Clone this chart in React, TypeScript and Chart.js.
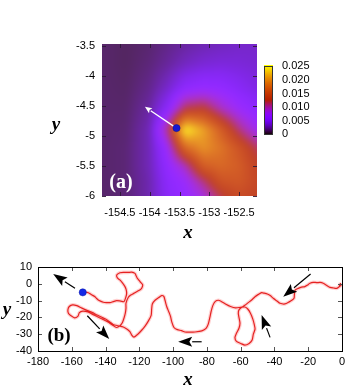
import React, { useEffect, useRef } from "react";
import { Chart, registerables } from "chart.js";

Chart.register(...registerables);

// ---------------- panel (a): density map ----------------
const gridX = [-154.8, -154.4, -154.0, -153.7, -153.4, -153.1, -152.8, -152.5, -152.2];
const gridY = [-3.47, -3.8, -4.2, -4.55, -4.9, -5.2, -5.5, -5.75, -6.0];
const densityRows = [
  [0.0013, 0.0011, 0.0014, 0.0019, 0.0024, 0.0028, 0.0031, 0.0034, 0.0035],
  [0.0013, 0.0011, 0.0016, 0.0023, 0.0032, 0.0038, 0.004, 0.0039, 0.0037],
  [0.0013, 0.0012, 0.002, 0.0035, 0.0058, 0.0065, 0.0062, 0.0052, 0.0043],
  [0.0013, 0.0013, 0.0025, 0.0055, 0.012, 0.0128, 0.0095, 0.0072, 0.0058],
  [0.0013, 0.0014, 0.003, 0.0105, 0.025, 0.021, 0.016, 0.011, 0.0078],
  [0.0013, 0.0015, 0.003, 0.0072, 0.017, 0.02, 0.018, 0.015, 0.0115],
  [0.0013, 0.0015, 0.003, 0.0062, 0.0095, 0.016, 0.017, 0.016, 0.013],
  [0.0013, 0.0015, 0.0028, 0.0056, 0.0072, 0.011, 0.015, 0.0155, 0.0135],
  [0.0013, 0.0015, 0.0028, 0.0053, 0.0065, 0.0085, 0.012, 0.014, 0.013],
];
const xTicksA = [-154.5, -154, -153.5, -153, -152.5];
const yTicksA = [-6, -5.5, -5, -4.5, -4, -3.5];
const cbTicks = [0, 0.005, 0.01, 0.015, 0.02, 0.025];
const cbLabels = ["0", "0.005", "0.010", "0.015", "0.020", "0.025"];
const posAX = [-153.55];
const posAY = [-4.87];
const arrowAX = [-153.55, -154.08];
const arrowAY = [-4.87, -4.515];

// ---------------- panel (b): trajectory ----------------
const trajX = [
  -0.8, -1.6, -0.6, -2, -3.2, -5, -7.1, -9, -11.1, -13, -15, -17, -19, -20.5, -22, -24, -25.9, -27.5, -28, -28.2,
  -28.4, -30, -31, -33.8, -36.7, -38.5, -40.7, -42.5, -44.2, -46, -47.6, -49.5, -51.5, -53.5, -55.5, -57.5, -59.4, -61,
  -61.4, -61, -60.4, -61, -62.5, -63.4, -62.5, -60, -57.5, -55, -53.2, -52.5, -51.5, -52, -52.8, -54.2, -55.8, -57.5, -60,
  -63, -66, -69, -71.5, -73.2, -75, -76.5, -77.5, -78.2, -79.2, -80.5, -83, -87, -90, -93, -95, -97.5, -99.5, -100.8,
  -101.5, -102.5, -103.8, -104.8, -105.5, -106.8, -108.5, -110.7, -112.3, -112.7, -113, -114.7, -116.5, -118.5, -120.6,
  -123.2, -124.5, -125.5, -127, -129.5,
  -132.5, -135.5, -137.5, -140, -142.5, -145, -148, -151, -154, -157, -159.5, -161.5, -162.3, -162, -160.5, -158.3,
  -156.3, -155.5, -153.5, -150.4, -147, -144.5, -141.5, -138.6, -136, -133.5, -131.5, -130, -129.1, -128.3, -127.9,
  -127.9, -126.5, -125.1, -123.3, -121.6, -119.5, -118.6, -118, -119.6, -120.5, -121.2, -122, -122.6, -124.5, -126.5,
  -129, -131.5, -133.4, -133, -131.5, -130, -128.5, -127.8, -127.5, -128, -129.1, -131, -133.4, -135.5, -137.4, -139.5,
  -141.3, -143, -144.3, -145.5, -146.3, -148.3, -150.2, -152, -153.5,
];
const trajY = [
  0.5, -1.6, -0.8, -2, -2.7, -2.5, -2.1, -1, 0.3, 0.8, 0.7, 0.9, 0.3, -0.8, -1.7, -2, -2.7, -3.5, -4.7, -6.5,
  -8.6, -10, -10.6, -12, -11.6, -10.2, -8.6, -7, -6.1, -5.6, -5.3, -6.3, -7.7, -9.6, -11.2, -12.8, -14, -15.5,
  -17.5, -20, -23.5, -26.5, -29.5, -32, -34.3, -35.5, -36.5, -35.5, -33.5, -30, -27, -24, -21, -17.5, -15, -13.8, -14,
  -14.3, -13.5, -12, -10.5, -9.8, -10.5, -13, -16.5, -19.8, -24, -26.5, -28, -28.7, -28.8, -28.7, -27.9, -27.3, -26, -22.7,
  -19.5, -16.8, -13.5, -9.8, -7.5, -7, -8.2, -9.8, -12, -15, -18.8, -22.2, -25, -27.5, -29.7,
  -31.7, -30.5, -28.6, -27.2, -25.7,
  -25, -24.2, -22.7, -21, -19.8, -18.6, -17, -15.8, -14.5, -13, -12.5, -13.5, -15.5, -17.5, -19, -20.3,
  -19.2, -17.2, -16.3, -16.8, -18.5, -19.8, -21.2, -22.7, -24.5, -26, -25, -23, -20.5, -17.5, -14.5,
  -11.5, -8, -6.7, -5.7, -4.7, -3.5, -2.7, -0.7, 1.3, 2.5, 3.3, 5, 6.2, 6.9, 6.8,
  6.8, 6.6, 5.2, 3.5, 2.3, 0.5, -1.7, -3.5, -5.7, -8, -10.6, -10.3, -10, -10.6, -11.2, -11.2,
  -11, -10.3, -9.6, -8.5, -7.7, -6.5, -5.3, -5, -5.1,
];
const posBX = [-153.5];
const posBY = [-5.1];
const arrowFromX = [-158.1, -150.8, -83.1, -42.6, -18.6];
const arrowFromY = [-2.7, -19, -34.5, -31.9, 5.8];
const arrowToX = [-171, -137.8, -97, -47.6, -34.8];
const arrowToY = [5.8, -32.9, -34.5, -18.6, -7.7];
const xTicksB = [-180, -160, -140, -120, -100, -80, -60, -40, -20, 0];
const yTicksB = [-40, -30, -20, -10, 0, 10];

const cbMax = 0.0253;
const SANS = "'Liberation Sans', Arial, sans-serif";
const SERIF = "'Liberation Serif', 'Times New Roman', serif";

function palette(t: number): number[] {
  const u = Math.max(0, Math.min(1, t));
  return [Math.sqrt(u), u * u * u, Math.max(0, Math.sin(2 * Math.PI * u))];
}

function seg(arr: number[], v: number): [number, number] {
  const n = arr.length;
  for (let i = 0; i < n - 1; i++) {
    const a = arr[i], b = arr[i + 1];
    if (v >= Math.min(a, b) && v <= Math.max(a, b)) return [i, (v - a) / (b - a)];
  }
  const asc = arr[n - 1] > arr[0];
  if (asc ? v < arr[0] : v > arr[0]) return [0, 0];
  return [n - 2, 1];
}

function density(xv: number, yv: number): number {
  const [i, tx] = seg(gridX, xv);
  const [j, ty] = seg(gridY, yv);
  const a = densityRows[j][i], b = densityRows[j][i + 1];
  const c = densityRows[j + 1][i], d = densityRows[j + 1][i + 1];
  return (a * (1 - tx) + b * tx) * (1 - ty) + (c * (1 - tx) + d * tx) * ty;
}

function drawArrow(ctx: CanvasRenderingContext2D, x1: number, y1: number, x2: number, y2: number,
  headLen: number, headHalf: number, color: string, lw: number) {
  const ang = Math.atan2(y2 - y1, x2 - x1);
  const bx = x2 - headLen * Math.cos(ang), by = y2 - headLen * Math.sin(ang);
  ctx.strokeStyle = color;
  ctx.lineWidth = lw;
  ctx.beginPath();
  ctx.moveTo(x1, y1);
  ctx.lineTo(bx, by);
  ctx.stroke();
  ctx.fillStyle = color;
  ctx.beginPath();
  ctx.moveTo(x2, y2);
  ctx.lineTo(bx + headHalf * Math.sin(ang), by - headHalf * Math.cos(ang));
  ctx.lineTo(x2 - headLen * 0.8 * Math.cos(ang), y2 - headLen * 0.8 * Math.sin(ang));
  ctx.lineTo(bx - headHalf * Math.sin(ang), by + headHalf * Math.cos(ang));
  ctx.closePath();
  ctx.fill();
}

function drawInwardTicks(chart: any, xt: number[], yt: number[], color: string, len: number) {
  const { ctx, chartArea: a, scales } = chart;
  ctx.save();
  ctx.strokeStyle = color;
  ctx.lineWidth = 1;
  ctx.beginPath();
  xt.forEach((v) => {
    const p = Math.round(scales.x.getPixelForValue(v)) + 0.5;
    ctx.moveTo(p, a.bottom); ctx.lineTo(p, a.bottom - len);
    ctx.moveTo(p, a.top); ctx.lineTo(p, a.top + len);
  });
  yt.forEach((v) => {
    const p = Math.round(scales.y.getPixelForValue(v)) + 0.5;
    ctx.moveTo(a.left, p); ctx.lineTo(a.left + len, p);
    ctx.moveTo(a.right, p); ctx.lineTo(a.right - len, p);
  });
  ctx.stroke();
  ctx.restore();
}

const heatPlugin = {
  id: "heat",
  beforeDatasetsDraw(chart: any) {
    const { ctx, chartArea: a, scales } = chart;
    const m = 12;
    const w = Math.round(a.right - a.left) + 2 * m;
    const h = Math.round(a.bottom - a.top) + 2 * m;
    const off = document.createElement("canvas");
    off.width = w;
    off.height = h;
    const octx = off.getContext("2d") as CanvasRenderingContext2D;
    const img = octx.createImageData(w, h);
    for (let j = 0; j < h; j++) {
      const yv = scales.y.getValueForPixel(a.top - m + j + 0.5);
      for (let i = 0; i < w; i++) {
        const xv = scales.x.getValueForPixel(a.left - m + i + 0.5);
        const c = palette(density(xv, yv) / cbMax);
        const k = (j * w + i) * 4;
        img.data[k] = Math.round((c[0] * 0.85 + 0.15) * 255);
        img.data[k + 1] = Math.round((c[1] * 0.85 + 0.15) * 255);
        img.data[k + 2] = Math.round((c[2] * 0.85 + 0.15) * 255);
        img.data[k + 3] = 255;
      }
    }
    octx.putImageData(img, 0, 0);
    ctx.save();
    ctx.beginPath();
    ctx.rect(a.left, a.top, a.right - a.left, a.bottom - a.top);
    ctx.clip();
    ctx.filter = "blur(3px)";
    ctx.drawImage(off, a.left - m, a.top - m);
    ctx.filter = "none";
    const x1 = scales.x.getPixelForValue(arrowAX[0]), y1 = scales.y.getPixelForValue(arrowAY[0]);
    const x2 = scales.x.getPixelForValue(arrowAX[1]), y2 = scales.y.getPixelForValue(arrowAY[1]);
    drawArrow(ctx, x1, y1, x2, y2, 7, 3, "#ffffff", 1.3);
    ctx.restore();
  },
  afterDraw(chart: any) {
    drawInwardTicks(chart, xTicksA, yTicksA, "rgba(45,25,55,0.9)", 4);
    const { ctx } = chart;
    ctx.save();
    ctx.fillStyle = "#000";
    ctx.font = `bold italic 19px ${SERIF}`;
    ctx.textAlign = "center";
    ctx.textBaseline = "alphabetic";
    ctx.fillText("y", 56, 130);
    ctx.fillText("x", 188, 238);
    ctx.fillStyle = "#ffffff";
    ctx.font = `bold 20px ${SERIF}`;
    ctx.fillText("(a)", 121, 188);
    ctx.restore();
  },
};

const cbPlugin = {
  id: "cbar",
  beforeDatasetsDraw(chart: any) {
    const { ctx, chartArea: a, scales } = chart;
    ctx.save();
    for (let py = Math.floor(a.top); py < a.bottom; py++) {
      const v = scales.y.getValueForPixel(py + 0.5);
      const c = palette(v / cbMax);
      ctx.fillStyle = `rgb(${Math.round(c[0] * 255)},${Math.round(c[1] * 255)},${Math.round(c[2] * 255)})`;
      ctx.fillRect(a.left, py, a.right - a.left, 1);
    }
    ctx.strokeStyle = "#333";
    ctx.lineWidth = 1;
    ctx.strokeRect(Math.round(a.left) + 0.5, Math.round(a.top) + 0.5, Math.round(a.right - a.left) - 1, Math.round(a.bottom - a.top) - 1);
    ctx.restore();
  },
};

const trajPlugin = {
  id: "traj",
  afterDatasetsDraw(chart: any) {
    const { ctx, scales } = chart;
    ctx.save();
    for (let i = 0; i < arrowFromX.length; i++) {
      drawArrow(
        ctx,
        scales.x.getPixelForValue(arrowFromX[i]), scales.y.getPixelForValue(arrowFromY[i]),
        scales.x.getPixelForValue(arrowToX[i]), scales.y.getPixelForValue(arrowToY[i]),
        14, 5, "#000", 1.2
      );
    }
    ctx.restore();
  },
  afterDraw(chart: any) {
    drawInwardTicks(chart, xTicksB, yTicksB, "#555", 4);
    const { ctx, chartArea: a } = chart;
    ctx.save();
    ctx.strokeStyle = "#000";
    ctx.lineWidth = 1;
    ctx.strokeRect(Math.round(a.left) + 0.5, Math.round(a.top) + 0.5, Math.round(a.right - a.left), Math.round(a.bottom - a.top));
    ctx.fillStyle = "#000";
    ctx.font = `bold italic 19px ${SERIF}`;
    ctx.textAlign = "center";
    ctx.textBaseline = "alphabetic";
    ctx.fillText("y", 7, 70);
    ctx.fillText("x", 188, 140);
    ctx.font = `bold 19px ${SERIF}`;
    ctx.fillText("(b)", 59, 96);
    ctx.restore();
  },
};

const tickFont = { family: SANS, size: 11 };

function makeTop(canvas: HTMLCanvasElement) {
  return new Chart(canvas, {
    type: "scatter",
    data: {
      datasets: [
        {
          data: posAX.map((x, i) => ({ x, y: posAY[i] })),
          pointRadius: 3.6,
          backgroundColor: "#1616d2",
          borderColor: "#0c0c90",
          borderWidth: 0.5,
        },
      ],
    },
    options: {
      animation: false,
      responsive: false,
      maintainAspectRatio: false,
      layout: { padding: { left: 0, top: 44, right: 103, bottom: 0 } },
      plugins: { legend: { display: false }, tooltip: { enabled: false } },
      scales: {
        x: {
          type: "linear",
          min: -154.8,
          max: -152.2,
          afterBuildTicks: (s: any) => { s.ticks = xTicksA.map((v) => ({ value: v })); },
          afterFit: (s: any) => { s.height = 54; },
          grid: { display: false, drawTicks: false },
          border: { display: false },
          ticks: { padding: 10, color: "#000", font: tickFont, maxRotation: 0, autoSkip: false, callback: (v: any) => String(v) },
        },
        y: {
          type: "linear",
          min: -6,
          max: -3.47,
          afterBuildTicks: (s: any) => { s.ticks = yTicksA.map((v) => ({ value: v })); },
          afterFit: (s: any) => { s.width = 102; },
          grid: { display: false, drawTicks: false },
          border: { display: false },
          ticks: { padding: 7, color: "#000", font: tickFont, autoSkip: false, callback: (v: any) => String(v) },
        },
      },
    } as any,
    plugins: [heatPlugin],
  });
}

function makeCb(canvas: HTMLCanvasElement) {
  return new Chart(canvas, {
    type: "scatter",
    data: { datasets: [] },
    options: {
      animation: false,
      responsive: false,
      maintainAspectRatio: false,
      layout: { padding: { left: 14, top: 11, right: 0, bottom: 12 } },
      plugins: { legend: { display: false }, tooltip: { enabled: false } },
      scales: {
        x: { type: "linear", min: 0, max: 1, display: false },
        y: {
          type: "linear",
          position: "right",
          min: 0,
          max: cbMax,
          afterBuildTicks: (s: any) => { s.ticks = cbTicks.map((v) => ({ value: v })); },
          afterFit: (s: any) => { s.width = 57; },
          grid: { display: false, drawTicks: false },
          border: { display: false },
          ticks: {
            padding: 9, color: "#000", font: tickFont, autoSkip: false,
            callback: (v: any) => cbLabels[cbTicks.indexOf(v)],
          },
        },
      },
    } as any,
    plugins: [cbPlugin],
  });
}

function makeBottom(canvas: HTMLCanvasElement) {
  const pts = trajX.map((x, i) => ({ x, y: trajY[i] }));
  return new Chart(canvas, {
    type: "scatter",
    data: {
      datasets: [
        {
          data: posBX.map((x, i) => ({ x, y: posBY[i] })),
          pointRadius: 3.6,
          backgroundColor: "#1428e6",
          borderColor: "#0a18a8",
          borderWidth: 0.5,
        },
        {
          data: pts,
          showLine: true,
          pointRadius: 0,
          borderColor: "rgba(228,25,25,0.95)",
          borderWidth: 1.2,
          tension: 0.25,
        },
        {
          data: pts,
          showLine: true,
          pointRadius: 0,
          borderColor: "rgba(255,100,100,0.3)",
          borderWidth: 3.6,
          tension: 0.25,
        },
      ],
    },
    options: {
      animation: false,
      responsive: false,
      maintainAspectRatio: false,
      layout: { padding: { left: 0, top: 22, right: 18, bottom: 0 } },
      plugins: { legend: { display: false }, tooltip: { enabled: false } },
      scales: {
        x: {
          type: "linear",
          min: -180,
          max: 0,
          afterBuildTicks: (s: any) => { s.ticks = xTicksB.map((v) => ({ value: v })); },
          afterFit: (s: any) => { s.height = 44; },
          grid: { display: false, drawTicks: false },
          border: { display: false },
          ticks: { padding: 4, color: "#000", font: tickFont, maxRotation: 0, autoSkip: false, callback: (v: any) => String(v) },
        },
        y: {
          type: "linear",
          min: -40,
          max: 10,
          afterBuildTicks: (s: any) => { s.ticks = yTicksB.map((v) => ({ value: v })); },
          afterFit: (s: any) => { s.width = 38; },
          grid: { display: false, drawTicks: false },
          border: { display: false },
          ticks: { padding: 6, color: "#000", font: tickFont, autoSkip: false, callback: (v: any) => String(v) },
        },
      },
    } as any,
    plugins: [trajPlugin],
  });
}

export default function App() {
  const topRef = useRef<HTMLCanvasElement>(null);
  const cbRef = useRef<HTMLCanvasElement>(null);
  const botRef = useRef<HTMLCanvasElement>(null);

  useEffect(() => {
    const charts = [
      makeTop(topRef.current as HTMLCanvasElement),
      makeBottom(botRef.current as HTMLCanvasElement),
      makeCb(cbRef.current as HTMLCanvasElement),
    ];
    return () => charts.forEach((c) => c.destroy());
  }, []);

  return (
    <div style={{ position: "absolute", left: 0, top: 0, width: 360, height: 387, overflow: "hidden", background: "#fff" }}>
      <canvas ref={topRef} width={360} height={250} style={{ position: "absolute", left: 0, top: 0 }} />
      <canvas ref={botRef} width={360} height={150} style={{ position: "absolute", left: 0, top: 245 }} />
      <canvas ref={cbRef} width={80} height={100} style={{ position: "absolute", left: 250, top: 50 }} />
    </div>
  );
}
